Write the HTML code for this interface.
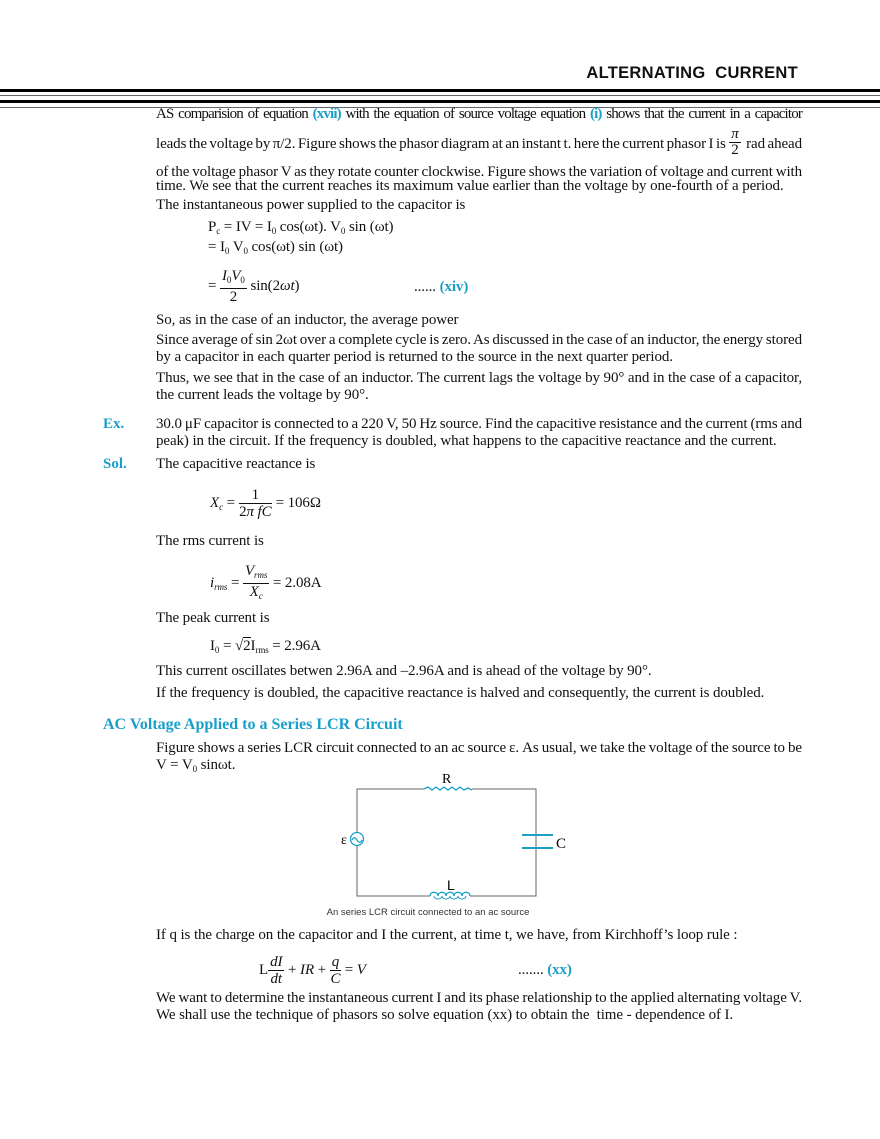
<!DOCTYPE html>
<html><head><meta charset="utf-8"><style>
body{margin:0;width:880px;height:1139px;background:#fff;position:relative;overflow:hidden;font-family:"Liberation Serif",serif;color:#111}
.l{position:absolute;left:156px;width:646px;font-size:15px;line-height:16px;white-space:nowrap;letter-spacing:-0.1px}
.j{text-align:justify;text-align-last:justify;white-space:normal;word-spacing:-1.5px}
.b{color:#1a9fc9;font-weight:bold}
.lab{position:absolute;left:103px;font-size:15px;font-weight:bold;color:#1a9fc9;line-height:16px}
.hr{position:absolute;left:0;width:880px}
sub{font-size:9px;vertical-align:-3px}
.fr{display:inline-block;vertical-align:middle;text-align:center;line-height:16px}
.fr span{display:block}
.fr .n{border-bottom:1px solid #111;padding:0 2px}
i{font-style:italic}
</style></head><body>
<div style="position:absolute;right:82px;top:64px;font-family:'Liberation Sans',sans-serif;font-weight:bold;font-size:16.5px;letter-spacing:0.3px">ALTERNATING&nbsp; CURRENT</div>
<div class="hr" style="top:89px;height:3px;background:#000"></div>
<div class="hr" style="top:95px;height:1px;background:#666"></div>
<div class="hr" style="top:100px;height:3px;background:#000"></div>
<div class="hr" style="top:107px;height:1px;background:#666"></div>

<div class="l j" style="top:106px;letter-spacing:-0.85px;font-size:15px;word-spacing:-2px">AS comparision of equation <span class="b">(xvii)</span> with the equation of source voltage equation <span class="b">(i)</span> shows that the current in a capacitor</div>
<div class="l j" style="top:136px">leads the voltage by π/2. Figure shows the phasor diagram at an instant t. here the current phasor I is &nbsp;&nbsp;&nbsp;&nbsp;&nbsp;&nbsp; rad ahead</div>
<div style="position:absolute;left:729px;top:127px;font-size:15px;line-height:15px;text-align:center;width:12px"><i>π</i><br><span style="display:block;border-top:1px solid #111">2</span></div>
<div class="l j" style="top:164px">of the voltage phasor V as they rotate counter clockwise. Figure shows the variation of voltage and current with</div>
<div class="l" style="top:178px">time. We see that the current reaches its maximum value earlier than the voltage by one-fourth of a period.</div>
<div class="l" style="top:197px">The instantaneous power supplied to the capacitor is</div>
<div class="l" style="top:219px;left:208px">P<sub>c</sub> = IV = I<sub>0</sub> cos(ωt). V<sub>0</sub> sin (ωt)</div>
<div class="l" style="top:239px;left:208px">= I<sub>0</sub> V<sub>0</sub> cos(ωt) sin (ωt)</div>
<div class="l" style="top:268px;left:208px;line-height:16px">= <span class="fr"><span class="n"><i>I</i><sub>0</sub><i>V</i><sub>0</sub></span><span>2</span></span> sin(2<i>ωt</i>)</div>
<div class="l" style="top:279px;left:414px">...... <span class="b">(xiv)</span></div>
<div class="l" style="top:312px">So, as in the case of an inductor, the average power</div>
<div class="l j" style="top:332px">Since average of sin 2ωt over a complete cycle is zero. As discussed in the case of an inductor, the energy stored</div>
<div class="l" style="top:349px">by a capacitor in each quarter period is returned to the source in the next quarter period.</div>
<div class="l j" style="top:370px">Thus, we see that in the case of an inductor. The current lags the voltage by 90° and in the case of a capacitor,</div>
<div class="l" style="top:387px">the current leads the voltage by 90°.</div>
<div class="lab" style="top:416px">Ex.</div>
<div class="l j" style="top:416px">30.0 μF capacitor is connected to a 220 V, 50 Hz source. Find the capacitive resistance and the current (rms and</div>
<div class="l" style="top:433px">peak) in the circuit. If the frequency is doubled, what happens to the capacitive reactance and the current.</div>
<div class="lab" style="top:456px">Sol.</div>
<div class="l" style="top:456px">The capacitive reactance is</div>
<div class="l" style="top:487px;left:210px"><i>X<sub>c</sub></i> = <span class="fr"><span class="n">&nbsp;&nbsp;&nbsp;1&nbsp;&nbsp;&nbsp;</span><span>2<i>π fC</i></span></span> = 106Ω</div>
<div class="l" style="top:533px">The rms current is</div>
<div class="l" style="top:563px;left:210px"><i>i<sub>rms</sub></i> = <span class="fr"><span class="n"><i>V<sub>rms</sub></i></span><span><i>X<sub>c</sub></i></span></span> = 2.08A</div>
<div class="l" style="top:610px">The peak current is</div>
<div class="l" style="top:638px;left:210px">I<sub>0</sub> = √<span style="border-top:1px solid #111">2</span>I<sub>rms</sub> = 2.96A</div>
<div class="l" style="top:663px">This current oscillates betwen 2.96A and –2.96A and is ahead of the voltage by 90°.</div>
<div class="l" style="top:685px">If the frequency is doubled, the capacitive reactance is halved and consequently, the current is doubled.</div>
<div class="lab" style="top:717px;font-size:16px">AC Voltage Applied to a Series LCR Circuit</div>
<div class="l j" style="top:740px">Figure shows a series LCR circuit connected to an ac source ε. As usual, we take the voltage of the source to be</div>
<div class="l" style="top:757px">V = V<sub>0</sub> sinωt.</div>

<svg style="position:absolute;left:0;top:0" width="880" height="1139">
<g fill="none" stroke="#666" stroke-width="1">
<path d="M424 789H357V896H430M470 896H536V789H472"/>
<path d="M536 789V835M536 848V896"/>
</g>
<g fill="none" stroke="#1a9fc9" stroke-width="1.3">
<path d="M424 789l4-2 4 3 4-3 4 3 4-3 4 3 4-3 4 3 4-3 4 3 4-2 4 2"/>
<path d="M522 835H553M522 848H553" stroke-width="2"/>
<path d="M430 896c0-5 8-5 8 0c0-5 8-5 8 0c0-5 8-5 8 0c0-5 8-5 8 0c0-5 8-5 8 0"/>
<path d="M434 896a4 3 0 0 0 8 0M442 896a4 3 0 0 0 8 0M450 896a4 3 0 0 0 8 0M458 896a4 3 0 0 0 8 0" stroke-width="1"/>
<circle cx="357" cy="839" r="6.5" fill="#fff"/>
<path d="M352 840c1.5-3 3-3 5 0s3.5 3 5 0"/>
</g>
<text x="442" y="783" font-family="Liberation Serif" font-size="14">R</text>
<text x="341" y="844" font-family="Liberation Serif" font-size="14">ε</text>
<text x="556" y="848" font-family="Liberation Serif" font-size="15">C</text>
<text x="447" y="890" font-family="Liberation Sans" font-size="14">L</text>
<text x="428" y="915" font-family="Liberation Sans" font-size="9.5" text-anchor="middle" fill="#333">An series LCR circuit connected to an ac source</text>
</svg>

<div class="l" style="top:927px">If q is the charge on the capacitor and I the current, at time t, we have, from Kirchhoff’s loop rule :</div>
<div class="l" style="top:954px;left:259px">L<span class="fr"><span class="n"><i>dI</i></span><span><i>dt</i></span></span> + <i>IR</i> + <span class="fr"><span class="n"><i>q</i></span><span><i>C</i></span></span> = <i>V</i></div>
<div class="l" style="top:962px;left:518px">....... <span class="b">(xx)</span></div>
<div class="l j" style="top:990px">We want to determine the instantaneous current I and its phase relationship to the applied alternating voltage V.</div>
<div class="l" style="top:1007px">We shall use the technique of phasors so solve equation (xx) to obtain the &nbsp;time - dependence of I.</div>
</body></html>
